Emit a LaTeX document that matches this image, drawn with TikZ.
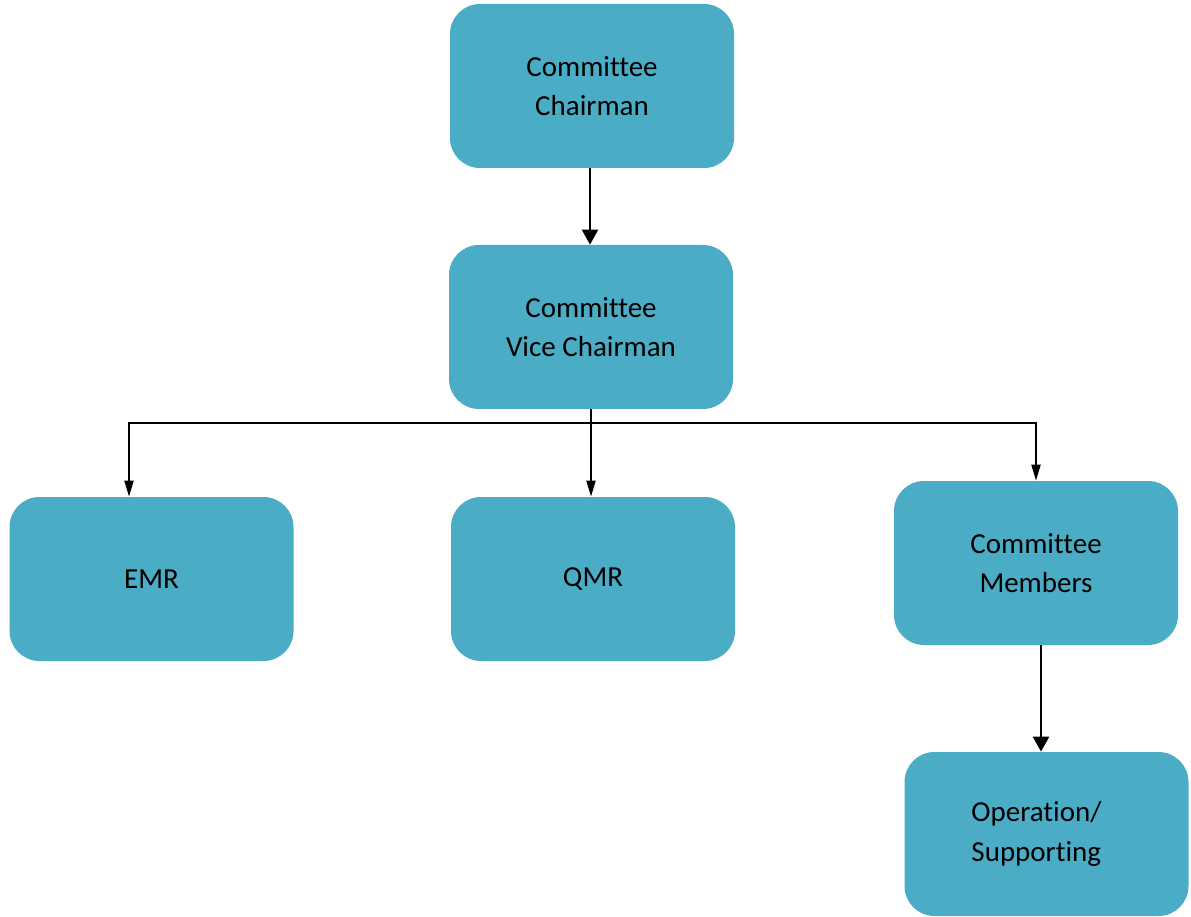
\documentclass[tikz,border=0pt]{standalone}
\usepackage{fontspec}
\setmainfont[Ligatures=NoCommon]{Carlito}
\usetikzlibrary{arrows.meta, positioning, calc}
\definecolor{cajaAzul}{RGB}{75,172,198}

\begin{document}
\begin{tikzpicture}
        [
            puesto/.style={
                rectangle,
                rounded corners=0.6cm,
                fill=cajaAzul,
                minimum width=5.68cm,
                minimum height=3.28cm,
                align=center,
                font=\fontsize{16.5}{22.5}\selectfont
            },
            flechaMando/.style={
                -{Triangle[width=0.32cm,length=0.3cm]},
                line width=1.4pt
            },
            flechaRama/.style={
                -{Triangle[width=0.18cm,length=0.32cm]},
                line width=1.1pt
            }
        ]
        \useasboundingbox (0,0) rectangle (23.82,-18.34);

        \node(chairman) [puesto] at (11.84,-1.72) {Committee\\Chairman};
        \node(vice) [puesto] at (11.82,-6.54) {Committee\\Vice Chairman};
        \node(emr) [puesto] at (3.03,-11.58) {EMR};
        \node(qmr) [puesto] at (11.86,-11.58) {QMR};
        \node(members) [puesto] at (20.72,-11.26) {Committee\\Members};
        \node(operation) [puesto, align=left] at (20.93,-16.68) {Operation/\hspace*{0.4cm}\\Supporting};

        \coordinate(split) at (11.82,-8.46);

        \draw[flechaMando] ([xshift=-0.04cm]chairman.south)--([xshift=-0.04cm]chairman.south |- vice.north);
        \draw[flechaRama] (vice.south)--(vice.south |- qmr.north);
        \draw[flechaRama] (split) -| ([xshift=-0.45cm]emr.north);
        \draw[flechaRama] (split) -| (members.north);
        \draw[line width=1.6pt] ([xshift=-0.45cm]emr.north |- split)--(members.north |- split);
        \draw[flechaMando] ([xshift=0.1cm]members.south)--([xshift=0.1cm]members.south |- operation.north);
    \end{tikzpicture}
\end{document}
